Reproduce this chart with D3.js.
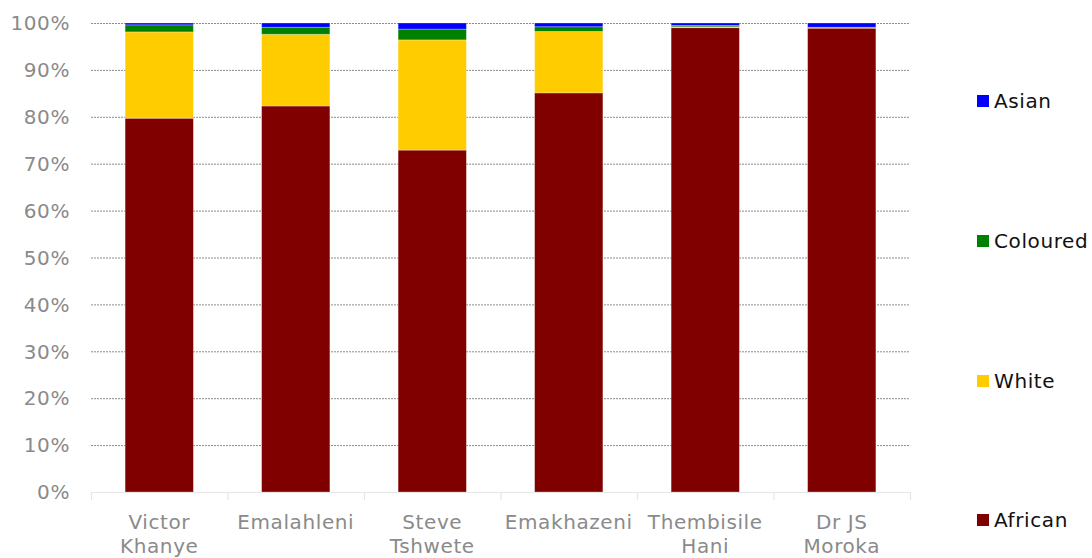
<!DOCTYPE html>
<html><head><meta charset="utf-8">
<script src="https://cdn.jsdelivr.net/npm/d3@7"></script>
<style>body{margin:0;background:#fff}svg{display:block}</style>
</head><body>
<svg id="c" width="1092" height="558"></svg>
<script>
const categories = [["Victor","Khanye"],["Emalahleni"],["Steve","Tshwete"],["Emakhazeni"],["Thembisile","Hani"],["Dr JS","Moroka"]];
const seriesNames = ["African","White","Coloured","Asian"];
const african  = [79.7, 82.3, 72.9, 85.1, 99.0, 98.9];
const white    = [18.4, 15.3, 23.5, 13.1, 0.2, 0.1];
const coloured = [1.5, 1.5, 2.3, 1.0, 0.3, 0.1];
const asian    = [0.4, 0.9, 1.3, 0.8, 0.5, 0.9];
const yTicks = [0,10,20,30,40,50,60,70,80,90,100];
const colors = {African:"#800000", White:"#ffcc00", Coloured:"#008000", Asian:"#0000ff"};

(function(){
const svg = d3.select("#c");
const mLeft = 91, mRight = 910, mTop = 23, mBottom = 492;
const FONT = "'DejaVu Sans', Verdana, sans-serif", FS = "20px", LS = "0.6px";
const keys = categories.map(c => c.join(" "));
const x = d3.scaleBand().domain(keys).range([mLeft, mRight]).paddingInner(0.5).paddingOuter(0.25);
const xb = d3.scaleBand().domain(keys).range([mLeft, mRight]);
const y = d3.scaleLinear().domain([0,100]).range([mBottom, mTop]);

const rows = keys.map((k,i) => ({key:k, African:african[i], White:white[i], Coloured:coloured[i], Asian:asian[i]}));
const stack = d3.stack().keys(seriesNames)(rows);

// gridlines
svg.append("g").selectAll("line").data(yTicks.filter(t => t > 0)).join("line")
  .attr("x1", mLeft).attr("x2", mRight)
  .attr("y1", d => y(d) + 0.5).attr("y2", d => y(d) + 0.5)
  .attr("stroke", "#8c8c8c").attr("stroke-width", 1).attr("stroke-dasharray", "2,1");

// y labels
svg.append("g").selectAll("text").data(yTicks).join("text")
  .attr("x", 70).attr("y", d => y(d)).attr("dy", "0.36em")
  .attr("text-anchor", "end").attr("fill", "#8a8a8a")
  .style("font-family", FONT).style("font-size", FS).style("letter-spacing", LS)
  .text(d => d + "%");

// bars
svg.append("g").selectAll("g").data(stack).join("g")
  .attr("fill", d => colors[d.key])
  .selectAll("rect").data(d => d).join("rect")
  .attr("x", d => x(d.data.key)).attr("width", x.bandwidth())
  .attr("y", d => y(d[1])).attr("height", d => Math.max(0, y(d[0]) - y(d[1])))
  .attr("stroke", "rgba(255,255,255,0.35)").attr("stroke-width", 0.8);

// x axis
const ax = svg.append("g");
ax.append("line").attr("x1", mLeft).attr("x2", mRight).attr("y1", mBottom + 0.5).attr("y2", mBottom + 0.5)
  .attr("stroke", "#e6e6e6").attr("stroke-width", 1.2);
const bounds = keys.map(k => xb(k)).concat([mRight]);
ax.selectAll("line.t").data(bounds).join("line").attr("class","t")
  .attr("x1", d => d + 0.5).attr("x2", d => d + 0.5).attr("y1", mBottom).attr("y2", mBottom + 8)
  .attr("stroke", "#e6e6e6").attr("stroke-width", 1.2);
ax.selectAll("text").data(categories).join("text")
  .attr("x", (d,i) => x(keys[i]) + x.bandwidth()/2)
  .attr("y", 529)
  .attr("text-anchor", "middle").attr("fill", "#8a8a8a")
  .style("font-family", FONT).style("font-size", FS).style("letter-spacing", LS)
  .each(function(d){
    const t = d3.select(this);
    d.forEach((line, j) => t.append("tspan").attr("x", t.attr("x")).attr("dy", j === 0 ? 0 : 23.5).text(line));
  });

// legend
const legendItems = ["Asian","Coloured","White","African"];
const legY = [101, 241, 381, 520];
const lg = svg.append("g").selectAll("g").data(legendItems).join("g")
  .attr("transform", (d,i) => `translate(977,${legY[i]})`);
lg.append("rect").attr("x", 0).attr("y", -6).attr("width", 12).attr("height", 12).attr("fill", d => colors[d]);
lg.append("text").attr("x", 17).attr("y", 0).attr("dy", "0.36em").attr("fill", "#111")
  .style("font-family", FONT).style("font-size", FS).style("letter-spacing", LS)
  .text(d => d);
})();
</script>
</body></html>
